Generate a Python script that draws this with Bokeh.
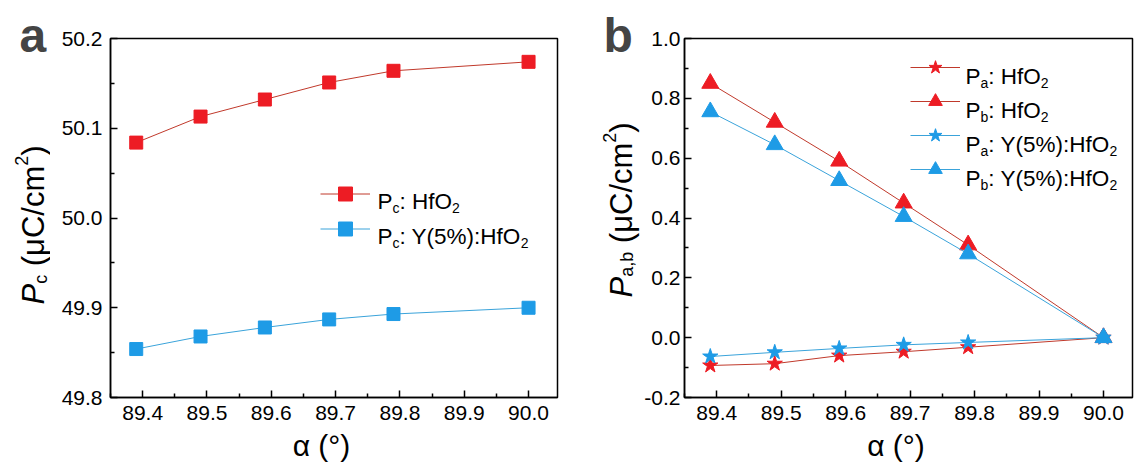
import math
from bokeh.plotting import figure
from bokeh.layouts import row
from bokeh.models import (Range1d, FixedTicker, PrintfTickFormatter, Label,
                          Legend, LegendItem)
from bokeh.embed import file_html
from bokeh.resources import INLINE

# ---------------- data ----------------
alpha = [89.39, 89.49, 89.59, 89.69, 89.79, 90.0]
pc_hfo2 = [50.084, 50.113, 50.132, 50.151, 50.164, 50.174]
pc_yhfo2 = [49.854, 49.868, 49.878, 49.887, 49.893, 49.900]
pa_hfo2 = [-0.093, -0.087, -0.060, -0.047, -0.032, 0.0]
pb_hfo2 = [0.85, 0.72, 0.59, 0.45, 0.31, 0.0]
pa_yhfo2 = [-0.063, -0.049, -0.036, -0.024, -0.016, 0.0]
pb_yhfo2 = [0.755, 0.645, 0.525, 0.405, 0.28, 0.0]

x_ticks = [89.4, 89.5, 89.6, 89.7, 89.8, 89.9, 90.0]
x_minor = [89.35, 89.45, 89.55, 89.65, 89.75, 89.85, 89.95]
ya_ticks = [49.8, 49.9, 50.0, 50.1, 50.2]
ya_minor = [49.85, 49.95, 50.05, 50.15]
yb_ticks = [-0.2, 0.0, 0.2, 0.4, 0.6, 0.8, 1.0]
yb_minor = [-0.1, 0.1, 0.3, 0.5, 0.7, 0.9]

FONT = "Liberation Sans"
RED = "#ED1C24"
BLUE = "#1E9BE6"
RED_LINE = "#C0392B"
BLUE_LINE = "#3AA3DA"
H = 470

# approximate Arial/Liberation Sans advance widths (em)
W = {' ': 0.278, '(': 0.333, ')': 0.333, '%': 0.889, ',': 0.278, '.': 0.278,
     '/': 0.278, '2': 0.556, '5': 0.556, ':': 0.278, 'C': 0.722, 'H': 0.722,
     'O': 0.778, 'P': 0.667, 'Y': 0.667, 'a': 0.556, 'b': 0.556, 'c': 0.5,
     'f': 0.278, 'm': 0.833, 'μ': 0.576}


def tw(s, size):
    return sum(W.get(ch, 0.556) for ch in s) * size


def runs_label(p, runs, x0, y0, angle=0.0):
    """Place rich text runs; x0,y0 frame-relative screen px (y up)."""
    dx, dy = math.cos(angle), math.sin(angle)
    ux, uy = -dy, dx
    pos = 0.0
    for text, size, shift, style in runs:
        stripped = text.lstrip(' ')
        pos += (len(text) - len(stripped)) * W[' '] * size
        x = x0 + dx * pos + ux * shift
        y = y0 + dy * pos + uy * shift
        p.add_layout(Label(x=x, y=y, x_units="screen", y_units="screen",
                           text=stripped, angle=angle, text_font=FONT,
                           text_font_size=f"{size}px", text_font_style=style,
                           text_align="left", text_baseline="alphabetic",
                           text_color="black"))
        pos += tw(stripped, size)


def make_strip(width):
    s = figure(width=width, height=H, x_range=Range1d(0, 1), y_range=Range1d(0, 1),
               output_backend="svg", toolbar_location=None,
               x_axis_location=None, y_axis_location=None,
               min_border=0, min_border_left=0, min_border_right=0,
               min_border_top=0, min_border_bottom=0,
               background_fill_color="white", border_fill_color="white")
    s.frame_align = False
    s.grid.visible = False
    s.outline_line_color = None
    return s


def make_fig(width, bl, br, yr, yt, ym, standoff_y):
    p = figure(width=width, height=H, x_range=Range1d(89.35, 90.045),
               y_range=Range1d(*yr), output_backend="svg",
               toolbar_location=None, min_border_left=bl,
               min_border_right=br, min_border_top=38,
               min_border_bottom=H - 38 - 359,
               background_fill_color="white", border_fill_color="white")
    p.frame_align = False
    p.grid.visible = False
    p.outline_line_color = "black"
    p.outline_line_width = 1.5
    p.xaxis.ticker = FixedTicker(ticks=x_ticks, minor_ticks=x_minor)
    p.yaxis.ticker = FixedTicker(ticks=yt, minor_ticks=ym)
    p.axis.formatter = PrintfTickFormatter(format="%.1f")
    for ax in (p.xaxis[0], p.yaxis[0]):
        ax.axis_line_width = 1.5
        ax.axis_line_color = "black"
        ax.major_tick_line_width = 1.5
        ax.minor_tick_line_width = 1.5
        ax.major_tick_line_color = "black"
        ax.minor_tick_line_color = "black"
        ax.major_tick_in = 7
        ax.major_tick_out = 0
        ax.minor_tick_in = 4
        ax.minor_tick_out = 0
        ax.major_label_text_font = FONT
        ax.major_label_text_font_size = "21px"
        ax.major_label_text_color = "black"
    p.xaxis.major_label_standoff = 8
    p.yaxis.major_label_standoff = standoff_y
    p.xaxis.axis_label = "α (°)\u00a0\u00a0\u00a0"
    p.xaxis.axis_label_text_font = FONT
    p.xaxis.axis_label_text_font_size = "30px"
    p.xaxis.axis_label_text_font_style = "normal"
    p.xaxis.axis_label_text_color = "black"
    p.xaxis.axis_label_standoff = 6
    return p


def series(p, x, y, marker, size, fill, line):
    lr = p.line(x, y, line_color=line, line_width=1)
    sr = p.scatter(x, y, marker=marker, size=size, fill_color=fill,
                   line_color=fill, line_width=1)
    return [lr, sr]


# ---------------- panel a (page x 0..575) ----------------
sa = make_strip(50)           # page x 0..50
pa = make_fig(525, 60, 18, (49.8, 50.2), ya_ticks, ya_minor, 8)   # page x 50..575
ra = series(pa, alpha, pc_hfo2, "square", 13, RED, RED_LINE)
rb = series(pa, alpha, pc_yhfo2, "square", 13, BLUE, BLUE_LINE)
leg_a = Legend(items=[LegendItem(label=" ", renderers=ra),
                      LegendItem(label=" ", renderers=rb)],
               location=(210, 151.5), glyph_width=50, glyph_height=35,
               spacing=0, padding=0, margin=0, label_standoff=0,
               label_text_font_size="1px", border_line_alpha=0,
               background_fill_alpha=0)
pa.add_layout(leg_a)

LA, BA = 110, 397   # frame a left / bottom in page px
runs_label(pa, [("P", 22.5, 0, "normal"), ("c", 14, -6, "normal"),
                (": HfO", 22.5, 0, "normal"), ("2", 14, -6, "normal")],
           377 - LA, BA - 201)
runs_label(pa, [("P", 22.5, 0, "normal"), ("c", 14, -6, "normal"),
                (": Y(5%):HfO", 22.5, 0, "normal"), ("2", 14, -6, "normal")],
           377 - LA, BA - 236)
# y title and panel letter in the strip (strip frame = whole canvas, page x 0..50)
runs_label(sa, [("P", 31, 0, "italic"), ("c", 18, -7, "normal"),
                (" (μC/cm", 31, 0, "normal"), ("2", 18, 12, "normal"),
                (")", 31, 0, "normal")],
           33, H - 304, angle=math.pi / 2)
sa.add_layout(Label(x=19, y=H - 35, x_units="screen", y_units="screen",
                    text="a", text_font=FONT, text_font_size="48px",
                    text_font_style="bold", text_align="left",
                    text_baseline="alphabetic"))

# ---------------- panel b (page x 575..1134) ----------------
SBX = 575
sb = make_strip(66)           # page x 575..641
pb = make_fig(493, 41, 2, (-0.2, 1.0), yb_ticks, yb_minor, 4)    # page x 641..1134
r1 = series(pb, alpha, pa_hfo2, "star", 16, RED, RED_LINE)
r2 = series(pb, alpha, pb_hfo2, "triangle", 17, RED, RED_LINE)
r3 = series(pb, alpha, pa_yhfo2, "star", 16, BLUE, BLUE_LINE)
r4 = series(pb, alpha, pb_yhfo2, "triangle", 17, BLUE, BLUE_LINE)
leg_b = Legend(items=[LegendItem(label=" ", renderers=r) for r in (r1, r2, r3, r4)],
               location=(226, 211), glyph_width=50, glyph_height=34,
               spacing=0, padding=0, margin=0, label_standoff=0,
               label_text_font_size="1px", border_line_alpha=0,
               background_fill_alpha=0)
pb.add_layout(leg_b)

LB, BB = 682, 397
leg_texts = [("a", ": HfO"), ("b", ": HfO"), ("a", ": Y(5%):HfO"), ("b", ": Y(5%):HfO")]
for i, (sub, body) in enumerate(leg_texts):
    yline = 67 + 34 * i
    runs_label(pb, [("P", 22.5, 0, "normal"), (sub, 14, -6, "normal"),
                    (body, 22.5, 0, "normal"), ("2", 14, -6, "normal")],
               963 - LB, BB - (yline + 9))
runs_label(sb, [("P", 31, 0, "italic"), ("a,b", 18, -5, "normal"),
                (" (μC/cm", 31, 0, "normal"), ("2", 18, 12, "normal"),
                (")", 31, 0, "normal")],
           621 - SBX, H - 297, angle=math.pi / 2)
sb.add_layout(Label(x=603 - SBX, y=H - 35, x_units="screen", y_units="screen",
                    text="b", text_font=FONT, text_font_size="48px",
                    text_font_style="bold", text_align="left",
                    text_baseline="alphabetic"))

layout = row(sa, pa, sb, pb)
open("out.html", "w").write(file_html(layout, INLINE))
